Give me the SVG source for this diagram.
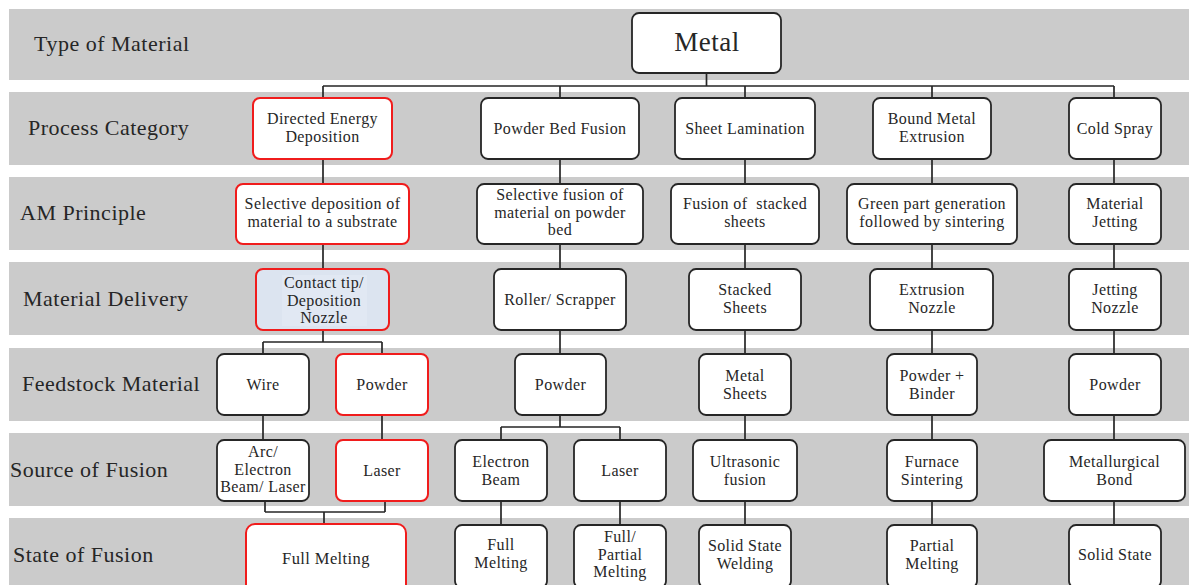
<svg xmlns="http://www.w3.org/2000/svg" width="1189" height="585" viewBox="0 0 1189 585">
<style>
.band{fill:#cbcbcb}
.lbl{font-family:'Liberation Serif','Times New Roman','DejaVu Serif',serif;font-size:22px;letter-spacing:0.5px;fill:#262626}
.box{fill:#fff;stroke:#262626;stroke-width:1.8}
.red{fill:#fff;stroke:#f01c1c;stroke-width:2}
.t{font-family:'Liberation Serif','Times New Roman','DejaVu Serif',serif;font-size:16px;letter-spacing:0.4px;fill:#262626;text-anchor:middle;white-space:pre}
.big{font-size:27px;letter-spacing:0.5px}
.conn{fill:none;stroke:#262626;stroke-width:1.7}
</style>
<rect width="1189" height="585" fill="#fff"/>
<g id="bands">
<rect class="band" x="9" y="9" width="1180" height="71"/>
<rect class="band" x="9" y="92" width="1180" height="73"/>
<rect class="band" x="9" y="177" width="1180" height="73"/>
<rect class="band" x="9" y="262" width="1180" height="73"/>
<rect class="band" x="9" y="348" width="1180" height="73"/>
<rect class="band" x="9" y="433" width="1180" height="73"/>
<rect class="band" x="9" y="518" width="1180" height="67"/>
</g>
<g id="row-labels">
<text class="lbl" x="34" y="51" font-family="Liberation Serif, serif">Type of Material</text>
<text class="lbl" x="28" y="135" font-family="Liberation Serif, serif">Process Category</text>
<text class="lbl" x="20" y="220" font-family="Liberation Serif, serif">AM Principle</text>
<text class="lbl" x="23" y="306" font-family="Liberation Serif, serif">Material Delivery</text>
<text class="lbl" x="22" y="391" font-family="Liberation Serif, serif">Feedstock Material</text>
<text class="lbl" x="10" y="477" font-family="Liberation Serif, serif">Source of Fusion</text>
<text class="lbl" x="13" y="562" font-family="Liberation Serif, serif">State of Fusion</text>
</g>
<g id="connectors">
<path class="conn" d="M706.5 73V86M323 86H1114M323 86V98M560 86V98M745 86V98M932 86V98M1114 86V98"/>
<path class="conn" d="M323 159V184M560 159V184M745 159V184M932 159V184M1114 159V184"/>
<path class="conn" d="M323 244V269M560 244V269M745 244V269M932 244V269M1114 244V269"/>
<path class="conn" d="M323 330V342M263 342H382M263 342V354M382 342V354M560 330V354M745 330V354M932 330V354M1114 330V354"/>
<path class="conn" d="M263 415V440M382 415V440M560 415V427M501 427H620M501 427V440M620 427V440M745 415V440M932 415V440M1114 415V440"/>
<path class="conn" d="M265 501V512M385 501V512M265 512H385M324 512V524M501 501V525M620 501V525M745 501V525M932 501V525M1114 501V525"/>
</g>
<g id="metal"><rect class="box" x="632" y="13" width="149" height="60" rx="7"/><text class="t big" x="707" y="51">Metal</text></g>

<g id="ded"><rect class="red" x="253" y="98" width="139" height="61" rx="7"/><text class="t" x="322.5" y="124">Directed Energy</text><text class="t" x="322.5" y="142">Deposition</text></g>
<g id="pbf"><rect class="box" x="481" y="98" width="158" height="61" rx="7"/><text class="t" x="560" y="134">Powder Bed Fusion</text></g>
<g id="sl"><rect class="box" x="675" y="98" width="140" height="61" rx="7"/><text class="t" x="745" y="134">Sheet Lamination</text></g>
<g id="bme"><rect class="box" x="873" y="98" width="118" height="61" rx="7"/><text class="t" x="932" y="124">Bound Metal</text><text class="t" x="932" y="142">Extrusion</text></g>
<g id="cs"><rect class="box" x="1069" y="98" width="92" height="61" rx="7"/><text class="t" x="1115" y="134">Cold Spray</text></g>

<g id="ded-am"><rect class="red" x="236" y="184" width="173" height="60" rx="7"/><text class="t" x="322.5" y="209">Selective deposition of</text><text class="t" x="322.5" y="227">material to a substrate</text></g>
<g id="pbf-am"><rect class="box" x="477" y="184" width="166" height="60" rx="7"/><text class="t" x="560" y="200">Selective fusion of</text><text class="t" x="560" y="218">material on powder</text><text class="t" x="560" y="235">bed</text></g>
<g id="sl-am"><rect class="box" x="671" y="184" width="148" height="60" rx="7"/><text class="t" x="745" y="209">Fusion of  stacked</text><text class="t" x="745" y="227">sheets</text></g>
<g id="bme-am"><rect class="box" x="847" y="184" width="170" height="60" rx="7"/><text class="t" x="932" y="209">Green part generation</text><text class="t" x="932" y="227">followed by sintering</text></g>
<g id="cs-am"><rect class="box" x="1069" y="184" width="92" height="60" rx="7"/><text class="t" x="1115" y="209">Material</text><text class="t" x="1115" y="227">Jetting</text></g>

<g id="ded-md"><rect class="red" x="256" y="269" width="133" height="61" rx="7" style="fill:#dce4f0"/><rect x="282" y="275" width="85" height="51" fill="#e1e8f3"/><text class="t" x="324" y="288">Contact tip/</text><text class="t" x="324" y="306">Deposition</text><text class="t" x="324" y="323">Nozzle</text></g>
<g id="pbf-md"><rect class="box" x="494" y="269" width="132" height="61" rx="7"/><text class="t" x="560" y="305">Roller/ Scrapper</text></g>
<g id="sl-md"><rect class="box" x="689" y="269" width="112" height="61" rx="7"/><text class="t" x="745" y="295">Stacked</text><text class="t" x="745" y="313">Sheets</text></g>
<g id="bme-md"><rect class="box" x="870" y="269" width="123" height="61" rx="7"/><text class="t" x="932" y="295">Extrusion</text><text class="t" x="932" y="313">Nozzle</text></g>
<g id="cs-md"><rect class="box" x="1069" y="269" width="92" height="61" rx="7"/><text class="t" x="1115" y="295">Jetting</text><text class="t" x="1115" y="313">Nozzle</text></g>

<g id="ded-wire"><rect class="box" x="217" y="354" width="92" height="61" rx="7"/><text class="t" x="263" y="390">Wire</text></g>
<g id="ded-powder"><rect class="red" x="336" y="354" width="92" height="61" rx="7"/><text class="t" x="382" y="390">Powder</text></g>
<g id="pbf-fs"><rect class="box" x="515" y="354" width="91" height="61" rx="7"/><text class="t" x="560.5" y="390">Powder</text></g>
<g id="sl-fs"><rect class="box" x="699" y="354" width="92" height="61" rx="7"/><text class="t" x="745" y="381">Metal</text><text class="t" x="745" y="399">Sheets</text></g>
<g id="bme-fs"><rect class="box" x="887" y="354" width="90" height="61" rx="7"/><text class="t" x="932" y="381">Powder +</text><text class="t" x="932" y="399">Binder</text></g>
<g id="cs-fs"><rect class="box" x="1069" y="354" width="92" height="61" rx="7"/><text class="t" x="1115" y="390">Powder</text></g>

<g id="ded-arc"><rect class="box" x="217" y="440" width="92" height="61" rx="7"/><text class="t" x="263" y="457">Arc/</text><text class="t" x="263" y="475">Electron</text><text class="t" x="263" y="492">Beam/ Laser</text></g>
<g id="ded-laser"><rect class="red" x="336" y="440" width="92" height="61" rx="7"/><text class="t" x="382" y="476">Laser</text></g>
<g id="pbf-eb"><rect class="box" x="455" y="440" width="92" height="61" rx="7"/><text class="t" x="501" y="467">Electron</text><text class="t" x="501" y="485">Beam</text></g>
<g id="pbf-laser"><rect class="box" x="574" y="440" width="92" height="61" rx="7"/><text class="t" x="620" y="476">Laser</text></g>
<g id="sl-src"><rect class="box" x="693" y="440" width="104" height="61" rx="7"/><text class="t" x="745" y="467">Ultrasonic</text><text class="t" x="745" y="485">fusion</text></g>
<g id="bme-src"><rect class="box" x="887" y="440" width="90" height="61" rx="7"/><text class="t" x="932" y="467">Furnace</text><text class="t" x="932" y="485">Sintering</text></g>
<g id="cs-src"><rect class="box" x="1044" y="440" width="141" height="61" rx="7"/><text class="t" x="1114.5" y="467">Metallurgical</text><text class="t" x="1114.5" y="485">Bond</text></g>

<g id="ded-state"><rect class="red" x="246" y="524" width="160" height="70" rx="9"/><text class="t" x="326" y="564" style="font-size:16.5px">Full Melting</text></g>
<g id="pbf-eb-state"><rect class="box" x="455" y="525" width="92" height="63" rx="7"/><text class="t" x="501" y="550">Full</text><text class="t" x="501" y="568">Melting</text></g>
<g id="pbf-laser-state"><rect class="box" x="574" y="525" width="92" height="63" rx="7"/><text class="t" x="620" y="542">Full/</text><text class="t" x="620" y="560">Partial</text><text class="t" x="620" y="577">Melting</text></g>
<g id="sl-state"><rect class="box" x="699" y="525" width="92" height="63" rx="7"/><text class="t" x="745" y="551">Solid State</text><text class="t" x="745" y="569">Welding</text></g>
<g id="bme-state"><rect class="box" x="887" y="525" width="90" height="63" rx="7"/><text class="t" x="932" y="551">Partial</text><text class="t" x="932" y="569">Melting</text></g>
<g id="cs-state"><rect class="box" x="1069" y="525" width="92" height="63" rx="7"/><text class="t" x="1115" y="560">Solid State</text></g>
</svg>
